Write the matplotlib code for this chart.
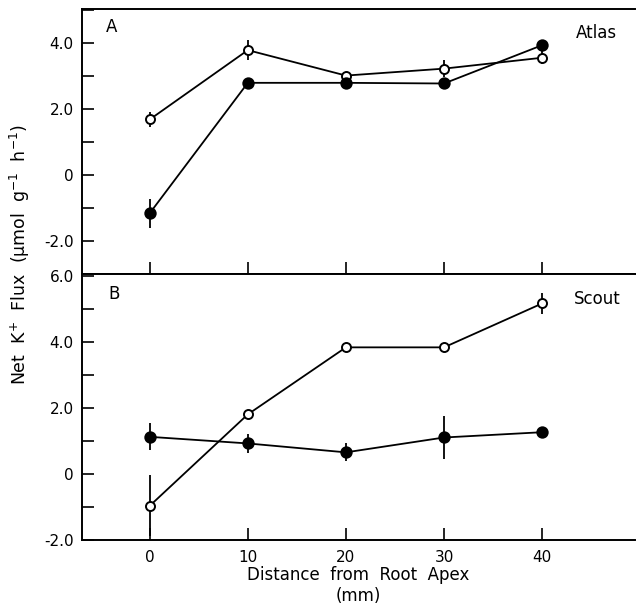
import numpy as np
import matplotlib
matplotlib.use("Agg")
import matplotlib.pyplot as plt
from matplotlib.ticker import MultipleLocator

# Distancia desde el ápice de la raíz (mm)
distance = [0, 10, 20, 30, 40]

# Panel A - Atlas
atlas_open = [1.68, 3.78, 3.01, 3.22, 3.55]
atlas_open_err = [0.24, 0.30, 0.0, 0.26, 0.20]
atlas_filled = [-1.16, 2.79, 2.79, 2.77, 3.93]
atlas_filled_err = [0.44, 0.0, 0.0, 0.0, 0.0]

# Panel B - Scout
scout_open = [-0.96, 1.81, 3.84, 3.84, 5.17]
scout_open_err = [0.92, 0.0, 0.0, 0.0, 0.33]
scout_filled = [1.13, 0.93, 0.66, 1.11, 1.27]
scout_filled_err = [0.41, 0.29, 0.27, 0.64, 0.0]

plt.rcParams['font.family'] = ['DejaVu Sans']
plt.rcParams['mathtext.fontset'] = 'dejavusans'

fig = plt.figure(figsize=(6.36, 6.09), dpi=100)
left, right = 82 / 636, 0.999
ax_a = fig.add_axes([left, 0.55, right - left, 0.986 - 0.55])
ax_b = fig.add_axes([left, 0.113, right - left, 0.55 - 0.113])


def draw_series(ax, y, err, filled):
    face = 'black' if filled else 'white'
    ax.errorbar(distance, y, yerr=err, fmt='-o', color='black', lw=1.3,
                elinewidth=1.3, capsize=0, ms=7.5 if filled else 6.5,
                mfc=face, mec='black', mew=1.4, zorder=3)


def style_axis(ax, ylim, show_xlabels):
    ax.set_xlim(-6.9, 49.5)
    ax.spines['right'].set_visible(False)
    for s in ax.spines.values():
        s.set_linewidth(1.4)
    ax.yaxis.set_minor_locator(MultipleLocator(1))
    ticks = np.arange(np.ceil(ylim[0] / 2) * 2, ylim[1], 2)
    ax.set_yticks(ticks)
    ax.set_yticklabels(['0' if abs(t) < 1e-9 else f'{t:.1f}' for t in ticks])
    ax.set_ylim(*ylim)
    ax.set_xticks(distance)
    ax.tick_params(axis='both', which='both', direction='in', length=8.5,
                   width=1.2, top=False, right=False)
    ax.tick_params(axis='y', labelsize=11, pad=6)
    ax.tick_params(axis='x', labelsize=11, pad=7, labelbottom=show_xlabels)


draw_series(ax_a, atlas_open, atlas_open_err, False)
draw_series(ax_a, atlas_filled, atlas_filled_err, True)
style_axis(ax_a, (-3.0, 5.04), False)
ax_a.text(0.054, 0.93, 'A', transform=ax_a.transAxes, fontsize=12,
          ha='center', va='center')
ax_a.text(0.930, 0.907, 'Atlas', transform=ax_a.transAxes, fontsize=12,
          ha='center', va='center')

draw_series(ax_b, scout_open, scout_open_err, False)
draw_series(ax_b, scout_filled, scout_filled_err, True)
style_axis(ax_b, (-2.0, 6.06), True)
ax_b.text(0.058, 0.925, 'B', transform=ax_b.transAxes, fontsize=12,
          ha='center', va='center')
ax_b.text(0.932, 0.908, 'Scout', transform=ax_b.transAxes, fontsize=12,
          ha='center', va='center')

ax_b.set_xlabel('Distance  from  Root  Apex\n(mm)', fontsize=12, labelpad=1,
                linespacing=1.2)
fig.text(19.5 / 636, 1 - 255 / 609,
         r'Net  K$^{+}$  Flux  (μmol  g$^{-1}$  h$^{-1}$)',
         rotation=90, ha='center', va='center', fontsize=12.5)

fig.savefig('out.png', dpi=100)
